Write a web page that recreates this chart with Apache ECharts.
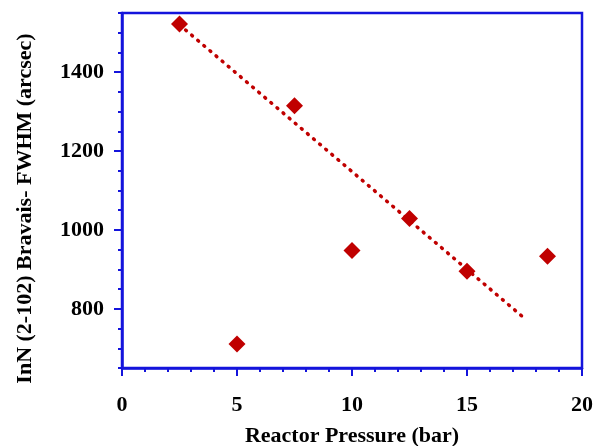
<!DOCTYPE html>
<html>
<head>
<meta charset="utf-8">
<script src="https://cdn.jsdelivr.net/npm/echarts@6/dist/echarts.min.js"></script>
<style>
  html, body { margin: 0; padding: 0; background: #fff; }
  #chartBox { width: 603px; height: 446px; }
</style>
</head>
<body>
<div id="chartBox"></div>
<script>
  // measured points
  var pressure = [2.5, 5, 7.5, 10, 12.5, 15, 18.5];
  var fwhm = [1522, 711, 1315, 948, 1029, 895, 933];
  // dotted trend line ends
  var fitX = [2.5, 17.5];
  var fitY = [1520, 776];
  var yMajor = [800, 1000, 1200, 1400];

  var blue = '#1414dc';
  var red = '#c00000';
  var font = 'Liberation Serif';

  var chart = echarts.init(document.getElementById('chartBox'));

  var option = {
    animation: false,
    grid: {
      left: 122, right: 21, top: 13, bottom: 78,
      outerBoundsMode: 'none', containLabel: false,
      show: true, borderColor: blue, borderWidth: 2.5
    },
    xAxis: [{
      type: 'value', min: 0, max: 20, interval: 5,
      name: 'Reactor Pressure (bar)', nameLocation: 'middle', nameGap: 57,
      nameTextStyle: { fontFamily: font, fontWeight: 'bold', fontSize: 22, color: '#000' },
      axisLine: { show: true, onZero: false, lineStyle: { color: blue, width: 2.5 } },
      axisTick: { show: true, length: 8, lineStyle: { color: blue, width: 2 } },
      minorTick: { show: true, splitNumber: 5, length: 4, lineStyle: { color: blue, width: 2 } },
      axisLabel: { margin: 26, fontFamily: font, fontWeight: 'bold', fontSize: 22, color: '#000' },
      splitLine: { show: false }
    }],
    yAxis: [{
      type: 'value', min: 650, max: 1550,
      name: 'InN (2-102) Bravais- FWHM (arcsec)', nameLocation: 'middle', nameGap: 86,
      nameTextStyle: { fontFamily: font, fontWeight: 'bold', fontSize: 22, color: '#000', padding: [0, 36, 0, 0] },
      axisLine: { show: true, onZero: false, lineStyle: { color: blue, width: 2.5 } },
      axisTick: { show: true, length: 8, customValues: yMajor, lineStyle: { color: blue, width: 2 } },
      axisLabel: {
        margin: 18, customValues: yMajor, fontFamily: font, fontWeight: 'bold', fontSize: 22, color: '#000',
        formatter: function (v) { return String(v); }
      },
      splitLine: { show: false }
    }, {
      // short ticks every 50
      type: 'value', min: 650, max: 1550, interval: 50, position: 'left',
      axisLine: { show: false },
      axisTick: { show: true, length: 4, lineStyle: { color: blue, width: 2 } },
      axisLabel: { show: false },
      splitLine: { show: false }
    }],
    series: [{
      type: 'line',
      data: fitX.map(function (x, i) { return [x, fitY[i]]; }),
      showSymbol: false,
      lineStyle: { color: red, width: 3.5, type: [1, 7], cap: 'round' },
      z: 2
    }, {
      type: 'scatter',
      data: pressure.map(function (x, i) { return [x, fwhm[i]]; }),
      symbol: 'diamond',
      symbolSize: 17,
      itemStyle: { color: red, opacity: 1 },
      z: 3
    }]
  };

  chart.setOption(option);
</script>
</body>
</html>
